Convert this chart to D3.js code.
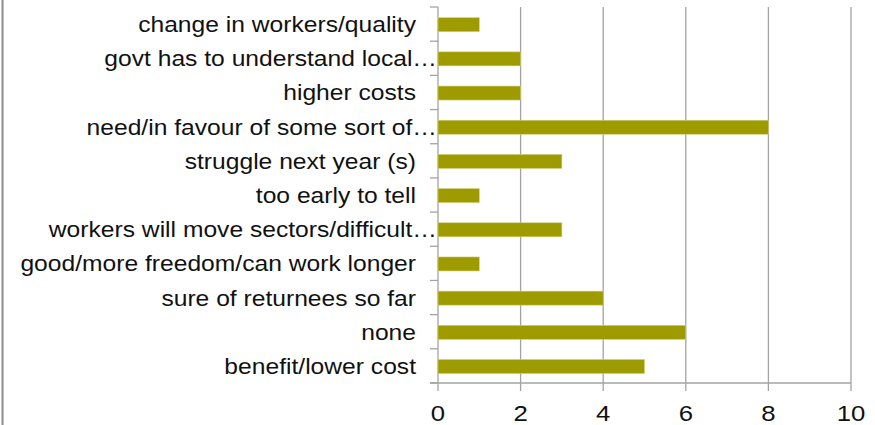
<!DOCTYPE html>
<html>
<head>
<meta charset="utf-8">
<script src="https://cdn.jsdelivr.net/npm/d3@7/dist/d3.min.js"></script>
<style>
  html, body { margin: 0; padding: 0; background: #fff; }
  svg { display: block; }
  text { font-family: "Liberation Sans", Arial, sans-serif; fill: #111; }
</style>
</head>
<body>
<svg id="chart" width="875" height="425"></svg>
<script>
// Responses, listed top to bottom
const categories = [
  "change in workers/quality",
  "govt has to understand local…",
  "higher costs",
  "need/in favour of some sort of…",
  "struggle next year (s)",
  "too early to tell",
  "workers will move sectors/difficult…",
  "good/more freedom/can work longer",
  "sure of returnees so far",
  "none",
  "benefit/lower cost"
];
const counts = [1, 2, 2, 8, 3, 1, 3, 1, 4, 6, 5];
const xTicks = [0, 2, 4, 6, 8, 10];

const svg = d3.select("#chart");
const W = 875, H = 425;
const plot = { left: 438, right: 851, top: 7, bottom: 383 };
const gridColor = "#a3a3a3";
const barColor = "#9e9b00";
const fontSize = 22, stretch = 1.12;

// Outer frame edge on the left
svg.append("line")
  .attr("x1", 2.5).attr("x2", 2.5).attr("y1", 0).attr("y2", H)
  .attr("stroke", "#8c8c8c").attr("stroke-width", 2);

const x = d3.scaleLinear().domain([0, 10]).range([plot.left, plot.right]);
const y = d3.scaleBand().domain(categories).range([plot.top, plot.bottom]).padding(0);

// Vertical gridlines and bottom tick marks
svg.append("g").selectAll("line").data(xTicks).join("line")
  .attr("x1", d => x(d)).attr("x2", d => x(d))
  .attr("y1", plot.top).attr("y2", plot.bottom + 8)
  .attr("stroke", gridColor).attr("stroke-width", 1.3);

// Bottom axis line
svg.append("line")
  .attr("x1", plot.left - 8).attr("x2", plot.right)
  .attr("y1", plot.bottom).attr("y2", plot.bottom)
  .attr("stroke", gridColor).attr("stroke-width", 1.3);

// Category tick marks at band boundaries
const bounds = categories.map(c => y(c)).concat([y.range()[1]]);
svg.append("g").selectAll("line").data(bounds).join("line")
  .attr("x1", plot.left - 8).attr("x2", plot.left)
  .attr("y1", d => d).attr("y2", d => d)
  .attr("stroke", gridColor).attr("stroke-width", 1.3);

// Bars
const barH = y.bandwidth() * 0.41;
svg.append("g").selectAll("rect").data(categories).join("rect")
  .attr("x", x(0))
  .attr("y", (c, i) => y(c) + y.bandwidth() / 2 - barH / 2 + 0.6)
  .attr("width", (c, i) => x(counts[i]) - x(0))
  .attr("height", barH)
  .attr("fill", barColor)
  .attr("stroke", "#d2d07a").attr("stroke-width", 0.6);

// Category labels (truncated ones run up to the axis)
svg.append("g").selectAll("text").data(categories).join("text")
  .attr("transform", c => {
    const ax = c.endsWith("…") ? plot.left - 1 : plot.left - 22;
    return `translate(${ax},${y(c) + y.bandwidth() / 2 + 8}) scale(${stretch},1)`;
  })
  .attr("text-anchor", "end")
  .attr("font-size", fontSize)
  .text(c => c);

// Value axis labels
svg.append("g").selectAll("text").data(xTicks).join("text")
  .attr("transform", d => `translate(${x(d)},421) scale(${stretch},1)`)
  .attr("text-anchor", "middle")
  .attr("font-size", fontSize + 1)
  .text(d => d);
</script>
</body>
</html>
